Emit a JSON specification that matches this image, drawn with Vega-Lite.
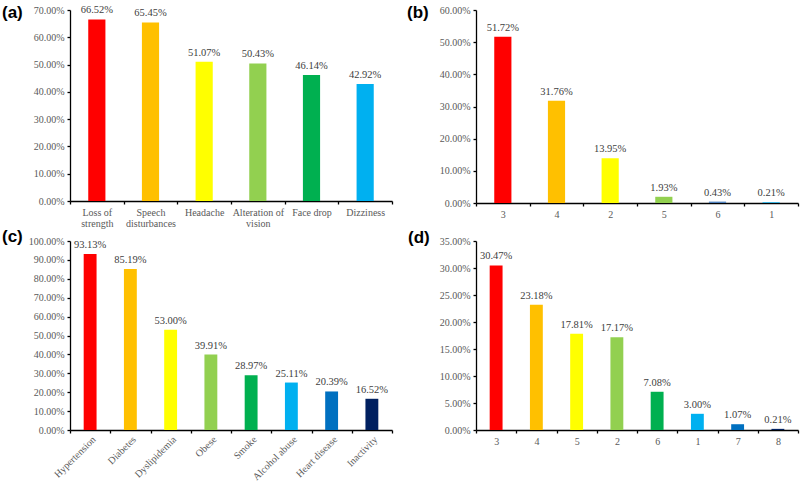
{
  "$schema": "https://vega.github.io/schema/vega-lite/v6.json",
  "padding": {"left": 2, "top": 4, "right": 2, "bottom": 10},
  "background": "white",
  "datasets": {
    "a": [
      {"cat": "Loss of strength", "v": 0.6652},
      {"cat": "Speech disturbances", "v": 0.6545},
      {"cat": "Headache", "v": 0.5107},
      {"cat": "Alteration of vision", "v": 0.5043},
      {"cat": "Face drop", "v": 0.4614},
      {"cat": "Dizziness", "v": 0.4292}
    ],
    "b": [
      {"cat": "3", "v": 0.5172},
      {"cat": "4", "v": 0.3176},
      {"cat": "2", "v": 0.1395},
      {"cat": "5", "v": 0.0193},
      {"cat": "6", "v": 0.0043},
      {"cat": "1", "v": 0.0021}
    ],
    "c": [
      {"cat": "Hypertension", "v": 0.9313},
      {"cat": "Diabetes", "v": 0.8519},
      {"cat": "Dyslipidemia", "v": 0.53},
      {"cat": "Obese", "v": 0.3991},
      {"cat": "Smoke", "v": 0.2897},
      {"cat": "Alcohol abuse", "v": 0.2511},
      {"cat": "Heart disease", "v": 0.2039},
      {"cat": "Inactivity", "v": 0.1652}
    ],
    "d": [
      {"cat": "3", "v": 0.3047},
      {"cat": "4", "v": 0.2318},
      {"cat": "5", "v": 0.1781},
      {"cat": "2", "v": 0.1717},
      {"cat": "6", "v": 0.0708},
      {"cat": "1", "v": 0.03},
      {"cat": "7", "v": 0.0107},
      {"cat": "8", "v": 0.0021}
    ]
  },
  "columns": 2,
  "bounds": "flush",
  "align": "all",
  "spacing": {"row": 38, "column": 84},
  "resolve": {"scale": {"color": "independent", "x": "independent", "y": "independent"}},
  "concat": [
    {
      "width": 322, "height": 191,
      "title": {"text": "(a)", "anchor": "start", "frame": "group", "dx": -68, "offset": -17},
      "data": {"name": "a"},
      "encoding": {
        "x": {"field": "cat", "type": "nominal", "sort": null, "scale": {"paddingInner": 0, "paddingOuter": 0},
          "axis": {"title": null, "labelAngle": 0, "labelExpr": "datum.label == 'Loss of strength' ? ['Loss of', 'strength'] : datum.label == 'Speech disturbances' ? ['Speech', 'disturbances'] : datum.label == 'Alteration of vision' ? ['Alteration of', 'vision'] : datum.label"}},
        "y": {"field": "v", "type": "quantitative", "scale": {"domain": [0, 0.7], "nice": false},
          "axis": {"title": null, "values": [0, 0.1, 0.2, 0.3, 0.4, 0.5, 0.6, 0.7], "format": ".2%"}}
      },
      "layer": [
        {"mark": {"type": "bar", "width": {"band": 0.32}},
         "encoding": {"color": {"field": "cat", "type": "nominal", "legend": null,
           "scale": {"domain": ["Loss of strength", "Speech disturbances", "Headache", "Alteration of vision", "Face drop", "Dizziness"],
                     "range": ["#FF0000", "#FFC000", "#FFFF00", "#92D050", "#00B050", "#00B0F0"]}}}},
        {"mark": {"type": "text", "baseline": "bottom", "dy": -4, "font": "Liberation Serif", "fontSize": 10.5, "color": "#404040"}, "encoding": {"text": {"field": "v", "type": "quantitative", "format": ".2%"}}}
      ]
    },
    {
      "width": 322, "height": 193,
      "title": {"text": "(b)", "anchor": "start", "frame": "group", "dx": -69, "offset": -17},
      "data": {"name": "b"},
      "encoding": {
        "x": {"field": "cat", "type": "nominal", "sort": null, "scale": {"paddingInner": 0, "paddingOuter": 0},
          "axis": {"title": null, "labelAngle": 0}},
        "y": {"field": "v", "type": "quantitative", "scale": {"domain": [0, 0.6], "nice": false},
          "axis": {"title": null, "values": [0, 0.1, 0.2, 0.3, 0.4, 0.5, 0.6], "format": ".2%"}}
      },
      "layer": [
        {"mark": {"type": "bar", "width": {"band": 0.32}},
         "encoding": {"color": {"field": "cat", "type": "nominal", "legend": null,
           "scale": {"domain": ["3", "4", "2", "5", "6", "1"],
                     "range": ["#FF0000", "#FFC000", "#FFFF00", "#92D050", "#4F81BD", "#00B0F0"]}}}},
        {"mark": {"type": "text", "baseline": "bottom", "dy": -4, "font": "Liberation Serif", "fontSize": 10.5, "color": "#404040"}, "encoding": {"text": {"field": "v", "type": "quantitative", "format": ".2%"}}}
      ]
    },
    {
      "width": 322, "height": 189,
      "title": {"text": "(c)", "anchor": "start", "frame": "group", "dx": -68, "offset": -10},
      "data": {"name": "c"},
      "encoding": {
        "x": {"field": "cat", "type": "nominal", "sort": null, "scale": {"paddingInner": 0, "paddingOuter": 0},
          "axis": {"title": null, "labelAngle": -45, "labelAlign": "right", "labelBaseline": "top", "labelPadding": 1}},
        "y": {"field": "v", "type": "quantitative", "scale": {"domain": [0, 1], "nice": false},
          "axis": {"title": null, "values": [0, 0.1, 0.2, 0.3, 0.4, 0.5, 0.6, 0.7, 0.8, 0.9, 1], "format": ".2%"}}
      },
      "layer": [
        {"mark": {"type": "bar", "width": {"band": 0.32}},
         "encoding": {"color": {"field": "cat", "type": "nominal", "legend": null,
           "scale": {"domain": ["Hypertension", "Diabetes", "Dyslipidemia", "Obese", "Smoke", "Alcohol abuse", "Heart disease", "Inactivity"],
                     "range": ["#FF0000", "#FFC000", "#FFFF00", "#92D050", "#00B050", "#00B0F0", "#0070C0", "#002060"]}}}},
        {"mark": {"type": "text", "baseline": "bottom", "dy": -4, "font": "Liberation Serif", "fontSize": 10.5, "color": "#404040"}, "encoding": {"text": {"field": "v", "type": "quantitative", "format": ".2%"}}}
      ]
    },
    {
      "width": 322, "height": 189,
      "title": {"text": "(d)", "anchor": "start", "frame": "group", "dx": -68, "offset": -11},
      "data": {"name": "d"},
      "encoding": {
        "x": {"field": "cat", "type": "nominal", "sort": null, "scale": {"paddingInner": 0, "paddingOuter": 0},
          "axis": {"title": null, "labelAngle": 0}},
        "y": {"field": "v", "type": "quantitative", "scale": {"domain": [0, 0.35], "nice": false},
          "axis": {"title": null, "values": [0, 0.05, 0.1, 0.15, 0.2, 0.25, 0.3, 0.35], "format": ".2%"}}
      },
      "layer": [
        {"mark": {"type": "bar", "width": {"band": 0.32}},
         "encoding": {"color": {"field": "cat", "type": "nominal", "legend": null,
           "scale": {"domain": ["3", "4", "5", "2", "6", "1", "7", "8"],
                     "range": ["#FF0000", "#FFC000", "#FFFF00", "#92D050", "#00B050", "#00B0F0", "#0070C0", "#002060"]}}}},
        {"mark": {"type": "text", "baseline": "bottom", "dy": -4, "font": "Liberation Serif", "fontSize": 10.5, "color": "#404040"}, "encoding": {"text": {"field": "v", "type": "quantitative", "format": ".2%"}}}
      ]
    }
  ],
  "config": {
    "view": {"stroke": null},
    "title": {"font": "Liberation Sans", "fontSize": 17, "fontWeight": "bold", "color": "#000000"},
    "axis": {
      "labelFont": "Liberation Serif", "labelFontSize": 10, "labelColor": "#595959",
      "domainColor": "#000000", "domainWidth": 1.3, "tickColor": "#000000", "tickWidth": 1.3,
      "tickSize": 3, "labelPadding": 3, "grid": false, "labelOverlap": false, "labelLineHeight": 11
    },
    "axisX": {"tickBand": "extent"}
  }
}
